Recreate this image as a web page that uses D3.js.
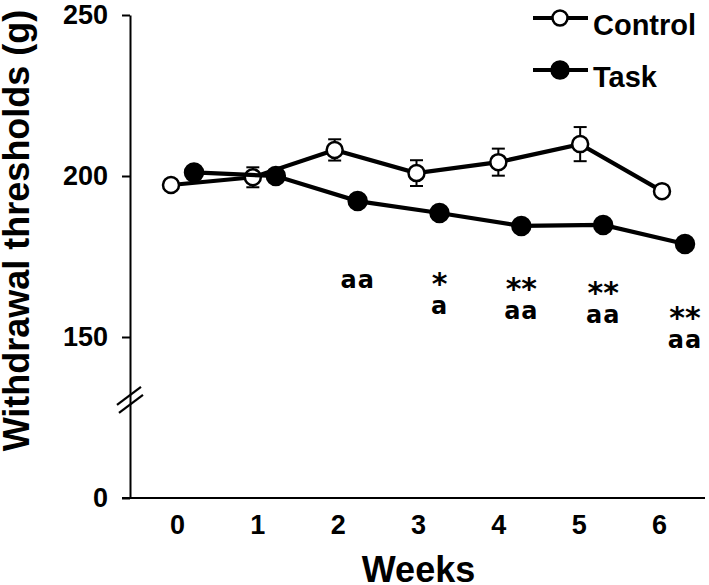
<!DOCTYPE html>
<html>
<head>
<meta charset="utf-8">
<script src="https://cdn.jsdelivr.net/npm/d3@7/dist/d3.min.js"></script>
<style>
  html, body { margin: 0; padding: 0; background: #fff; }
  svg { display: block; }
</style>
</head>
<body>
<svg id="chart" width="709" height="585"></svg>
<script>
// ---- data ----
const weeks = [0, 1, 2, 3, 4, 5, 6];
const controlMean = [197.2, 199.6, 208.1, 200.9, 204.3, 209.9, 195.3];
const controlSem  = [1.0, 3.1, 3.3, 4.0, 4.2, 5.3, 1.5];
const taskMean    = [201.1, 200.0, 192.2, 188.5, 184.5, 184.8, 178.9];
const taskSem     = [1.2, 1.5, 1.5, 1.5, 1.5, 1.5, 1.5];
const yTickValues = [100, 150, 200, 250];
const yTickLabels = ["0", "150", "200", "250"];
const annWeeks   = [2, 3, 4, 5, 6];
const annStars   = ["", "*", "**", "**", "**"];
const annLetters = ["aa", "a", "aa", "aa", "aa"];
const annLevel   = [165.2, 157.1, 155.6, 154.3, 146.6];
const seriesNames = ["Control", "Task"];

// ---- layout ----
const svg = d3.select("#chart");
const axisX = 130, topY = 15, bottomY = 498;
const y = d3.scaleLinear().domain([100, 250]).range([bottomY, topY]);
const xTick = d3.scaleLinear().domain([0, 6]).range([177, 659]);
const xMark = d3.scaleLinear().domain([0, 6]).range([171, 662]);
const offsets = [0, 23];
const labelFont = "'Liberation Sans', Arial, sans-serif";
const annFont = "'DejaVu Sans', Verdana, sans-serif";

// y axis
const yAxis = d3.axisLeft(y)
  .tickValues(yTickValues)
  .tickFormat((d, i) => yTickLabels[i])
  .tickSize(8).tickSizeOuter(0).tickPadding(14);
const gy = svg.append("g").attr("transform", `translate(${axisX},0)`).call(yAxis);
gy.select(".domain").attr("stroke", "#000").attr("stroke-width", 2);
gy.selectAll(".tick line").attr("stroke", "#000").attr("stroke-width", 2);
gy.selectAll(".tick text")
  .attr("font-family", labelFont).attr("font-weight", "bold")
  .attr("font-size", 27).attr("fill", "#000");

// x axis (labels only, line drawn separately)
const xAxis = d3.axisBottom(xTick).tickValues(weeks).tickFormat(d3.format("d"))
  .tickSize(0).tickPadding(0);
const gx = svg.append("g").attr("transform", `translate(0,${bottomY})`).call(xAxis);
gx.select(".domain").remove();
gx.selectAll(".tick text")
  .attr("y", 36).attr("dy", 0)
  .attr("font-family", labelFont).attr("font-weight", "bold")
  .attr("font-size", 27).attr("fill", "#000");
svg.append("line")
  .attr("x1", axisX - 8).attr("x2", 705)
  .attr("y1", bottomY).attr("y2", bottomY)
  .attr("stroke", "#000").attr("stroke-width", 2);

// axis break marks
const breakY = y(130.5);
[[-1, -4], [1, 4]].forEach(([dx, dy]) => {
  svg.append("line")
    .attr("x1", axisX + dx - 12).attr("y1", breakY + dy + 9)
    .attr("x2", axisX + dx + 12).attr("y2", breakY + dy - 9)
    .attr("stroke", "#000").attr("stroke-width", 2.2);
});

// titles
svg.append("text")
  .attr("transform", `translate(29,${230.5}) rotate(-90)`)
  .attr("text-anchor", "middle")
  .attr("font-family", labelFont).attr("font-weight", "bold")
  .attr("font-size", 36).attr("fill", "#000")
  .text("Withdrawal thresholds (g)");
svg.append("text")
  .attr("x", 418.5).attr("y", 582)
  .attr("text-anchor", "middle")
  .attr("font-family", labelFont).attr("font-weight", "bold")
  .attr("font-size", 36).attr("fill", "#000")
  .text("Weeks");

// series
const series = [
  { name: seriesNames[0], mean: controlMean, sem: controlSem, fill: "#fff", r: 8 },
  { name: seriesNames[1], mean: taskMean, sem: taskSem, fill: "#000", r: 9 }
];

series.forEach((s, si) => {
  const pts = weeks.map((w, i) => ({ x: xMark(w) + offsets[si], m: s.mean[i], e: s.sem[i] }));
  const g = svg.append("g");
  pts.forEach(p => {
    g.append("line").attr("x1", p.x).attr("x2", p.x)
      .attr("y1", y(p.m - p.e)).attr("y2", y(p.m + p.e))
      .attr("stroke", "#000").attr("stroke-width", 2);
    [p.m - p.e, p.m + p.e].forEach(v => {
      g.append("line").attr("x1", p.x - 6.5).attr("x2", p.x + 6.5)
        .attr("y1", y(v)).attr("y2", y(v))
        .attr("stroke", "#000").attr("stroke-width", 2);
    });
  });
  g.append("path")
    .datum(pts)
    .attr("d", d3.line().x(d => d.x).y(d => y(d.m)))
    .attr("fill", "none").attr("stroke", "#000").attr("stroke-width", 4.2);
  s.g = g; s.pts = pts;
});
series.forEach(s => {
  s.g.selectAll("circle").data(s.pts).join("circle")
    .attr("cx", d => d.x).attr("cy", d => y(d.m)).attr("r", s.r)
    .attr("fill", s.fill).attr("stroke", "#000").attr("stroke-width", 2.5);
});

// annotations (one text per week, stars line above letters line)
annWeeks.forEach((w, i) => {
  const cx = xMark(w) + offsets[1];
  const by = y(annLevel[i]);
  const t = svg.append("text")
    .attr("text-anchor", "middle")
    .attr("font-family", annFont).attr("font-weight", "bold")
    .attr("fill", "#000");
  if (annStars[i]) {
    t.append("tspan").attr("x", cx).attr("y", by - 20)
      .attr("font-size", 30).text(annStars[i]);
  }
  t.append("tspan").attr("x", cx).attr("y", by)
    .attr("font-size", 24).attr("letter-spacing", 1).text(annLetters[i]);
});

// legend
const legY = [18, 70];
series.forEach((s, i) => {
  const g = svg.append("g");
  g.append("line").attr("x1", 533).attr("x2", 588)
    .attr("y1", legY[i]).attr("y2", legY[i])
    .attr("stroke", "#000").attr("stroke-width", 4.2);
  g.append("circle").attr("cx", 560).attr("cy", legY[i]).attr("r", s.r - 0.5)
    .attr("fill", s.fill).attr("stroke", "#000").attr("stroke-width", 2.5);
  g.append("text").attr("x", 593).attr("y", legY[i] + 17)
    .attr("font-family", labelFont).attr("font-weight", "bold")
    .attr("font-size", 29).attr("fill", "#000")
    .text(s.name);
});
</script>
</body>
</html>
